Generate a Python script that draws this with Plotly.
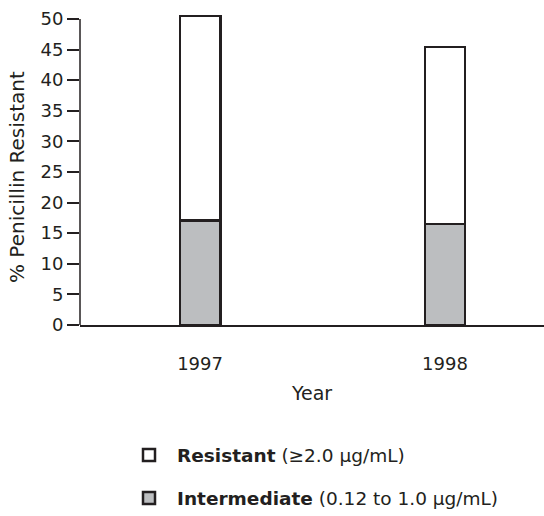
import plotly.graph_objects as go

years = ["1997", "1998"]
intermediate = [17.1, 16.5]
resistant_total = [50.5, 45.4]
resistant = [t - i for t, i in zip(resistant_total, intermediate)]

y_ticks = [0, 5, 10, 15, 20, 25, 30, 35, 40, 45, 50]

INK = "#231f20"
FONT = "'DejaVu Sans', sans-serif"

fig = go.Figure()
fig.add_trace(go.Bar(
    x=years, y=intermediate, name="<b>Intermediate</b> (0.12 to 1.0 µg/mL)",
    marker=dict(color="#bcbec0", line=dict(color=INK, width=2.5)),
    width=0.165, legendgroup="b", legendrank=2,
))
fig.add_trace(go.Bar(
    x=years, y=resistant, name="<b>Resistant</b> (≥2.0 µg/mL)",
    marker=dict(color="#ffffff", line=dict(color=INK, width=2.5)),
    width=0.165, legendgroup="a", legendrank=1,
))

# y axis line drawn only up to the top tick (bars may rise above it)
fig.add_shape(type="line", xref="paper", yref="y", x0=0, x1=0, y0=0, y1=y_ticks[-1],
              line=dict(color=INK, width=1.5), layer="below")

# y axis title as a rotated annotation (placed slightly below the axis middle, as in the original)
fig.add_annotation(text="% Penicillin Resistant", textangle=-90,
                   xref="paper", yref="paper", x=(17 - 80) / 464, y=(325 - 177) / 311,
                   xanchor="center", yanchor="middle", showarrow=False,
                   font=dict(family=FONT, size=20, color=INK))

fig.update_layout(
    width=544, height=516,
    barmode="stack",
    paper_bgcolor="white", plot_bgcolor="white",
    margin=dict(l=80, r=0, t=14, b=191, autoexpand=False),
    font=dict(family=FONT, size=18, color=INK),
    showlegend=True,
    legend=dict(
        x=(121 - 80) / 464, xanchor="left",
        y=(325 - 436.5) / 311, yanchor="top",
        traceorder="grouped", tracegroupgap=16, itemwidth=46,
        font=dict(family=FONT, size=18.5, color=INK),
        bgcolor="rgba(0,0,0,0)",
    ),
    xaxis=dict(
        type="category", range=[-0.49, 1.404],
        showline=True, linecolor=INK, linewidth=1.5,
        ticks="", showgrid=False, zeroline=False, tickangle=0,
        ticklabelstandoff=22,
        tickfont=dict(size=18),
        title=dict(text="Year", standoff=13, font=dict(size=19)),
    ),
    yaxis=dict(
        range=[0, 50.8], tickvals=y_ticks,
        showline=False,
        ticks="outside", ticklen=12, tickwidth=1.5, tickcolor=INK,
        showgrid=False, zeroline=False,
        tickfont=dict(size=18),
    ),
)

fig.write_html("out.html", config={"displayModeBar": False},
               post_script="document.body.style.margin='0';")
